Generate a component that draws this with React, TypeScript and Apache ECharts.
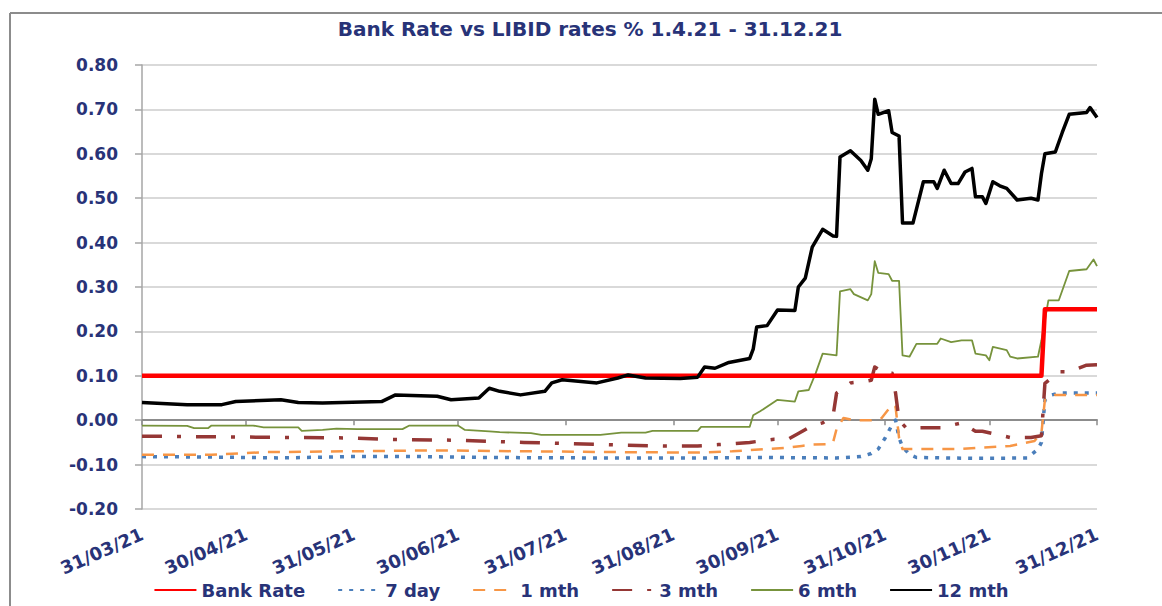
import React, { useEffect, useRef } from "react";
import * as echarts from "echarts";

const chartTitle = "Bank Rate vs LIBID rates % 1.4.21 - 31.12.21";
const seriesNames = ["Bank Rate", "7 day", "1 mth", "3 mth", "6 mth", "12 mth"];

const tickDates = ["2021-03-31", "2021-04-30", "2021-05-31", "2021-06-30", "2021-07-31", "2021-08-31", "2021-09-30", "2021-10-31", "2021-11-30", "2021-12-31"];
const tickLabels = ["31/03/21", "30/04/21", "31/05/21", "30/06/21", "31/07/21", "31/08/21", "30/09/21", "31/10/21", "30/11/21", "31/12/21"];

const bankDates = ["2021-03-31", "2021-12-15", "2021-12-16", "2021-12-31"];
const bankValues = [0.1, 0.1, 0.25, 0.25];

const day7Dates = ["2021-03-31", "2021-04-20", "2021-05-10", "2021-05-30", "2021-06-19", "2021-07-09", "2021-08-08", "2021-09-07", "2021-09-27", "2021-10-17", "2021-10-24", "2021-10-27", "2021-10-29", "2021-10-31", "2021-11-02", "2021-11-03", "2021-11-04", "2021-11-05", "2021-11-07", "2021-11-09", "2021-11-26", "2021-12-11", "2021-12-14", "2021-12-15", "2021-12-16", "2021-12-18", "2021-12-20", "2021-12-31"];
const day7Values = [-0.082, -0.083, -0.085, -0.082, -0.082, -0.084, -0.085, -0.085, -0.084, -0.085, -0.082, -0.075, -0.065, -0.04, -0.01, 0.0, -0.04, -0.06, -0.077, -0.084, -0.086, -0.085, -0.065, -0.05, 0.046, 0.057, 0.061, 0.061];

const mth1Dates = ["2021-03-31", "2021-04-20", "2021-05-05", "2021-05-30", "2021-06-24", "2021-07-19", "2021-08-18", "2021-09-07", "2021-09-17", "2021-10-03", "2021-10-07", "2021-10-10", "2021-10-14", "2021-10-16", "2021-10-17", "2021-10-19", "2021-10-22", "2021-10-27", "2021-10-30", "2021-11-02", "2021-11-03", "2021-11-04", "2021-11-05", "2021-11-21", "2021-12-06", "2021-12-13", "2021-12-15", "2021-12-16", "2021-12-19", "2021-12-31"];
const mth1Values = [-0.078, -0.078, -0.072, -0.07, -0.068, -0.07, -0.072, -0.073, -0.07, -0.062, -0.058, -0.055, -0.054, -0.05, -0.02, 0.005, 0.0, 0.0, 0.005, 0.035, 0.03, -0.04, -0.065, -0.065, -0.058, -0.047, -0.028, 0.046, 0.057, 0.057];

const mth3Dates = ["2021-03-31", "2021-04-30", "2021-05-30", "2021-06-09", "2021-06-29", "2021-07-19", "2021-08-16", "2021-08-28", "2021-09-07", "2021-09-13", "2021-09-22", "2021-09-29", "2021-10-03", "2021-10-06", "2021-10-10", "2021-10-13", "2021-10-16", "2021-10-17", "2021-10-21", "2021-10-25", "2021-10-27", "2021-10-28", "2021-10-31", "2021-11-02", "2021-11-03", "2021-11-04", "2021-11-06", "2021-11-16", "2021-11-22", "2021-11-26", "2021-11-28", "2021-12-02", "2021-12-06", "2021-12-12", "2021-12-15", "2021-12-16", "2021-12-20", "2021-12-23", "2021-12-28", "2021-12-31"];
const mth3Values = [-0.036, -0.038, -0.04, -0.043, -0.045, -0.05, -0.056, -0.058, -0.058, -0.055, -0.05, -0.043, -0.043, -0.03, -0.012, -0.006, 0.01, 0.061, 0.084, 0.087, 0.09, 0.12, 0.106, 0.106, 0.061, 0.0, -0.017, -0.017, -0.006, -0.025, -0.025, -0.032, -0.039, -0.039, -0.035, 0.083, 0.109, 0.109, 0.124, 0.125];

const mth6Dates = ["2021-03-31", "2021-04-13", "2021-04-15", "2021-04-19", "2021-04-20", "2021-05-02", "2021-05-05", "2021-05-15", "2021-05-16", "2021-05-22", "2021-05-26", "2021-06-01", "2021-06-14", "2021-06-16", "2021-06-30", "2021-07-02", "2021-07-09", "2021-07-12", "2021-07-21", "2021-07-24", "2021-08-10", "2021-08-16", "2021-08-23", "2021-08-25", "2021-09-07", "2021-09-08", "2021-09-22", "2021-09-23", "2021-09-25", "2021-09-30", "2021-10-05", "2021-10-06", "2021-10-09", "2021-10-11", "2021-10-13", "2021-10-17", "2021-10-18", "2021-10-21", "2021-10-22", "2021-10-26", "2021-10-27", "2021-10-28", "2021-10-29", "2021-11-01", "2021-11-02", "2021-11-04", "2021-11-05", "2021-11-07", "2021-11-09", "2021-11-15", "2021-11-16", "2021-11-19", "2021-11-22", "2021-11-25", "2021-11-26", "2021-11-29", "2021-11-30", "2021-12-01", "2021-12-05", "2021-12-06", "2021-12-08", "2021-12-14", "2021-12-15", "2021-12-17", "2021-12-20", "2021-12-23", "2021-12-28", "2021-12-30", "2021-12-31"];
const mth6Values = [-0.012, -0.013, -0.018, -0.018, -0.012, -0.012, -0.016, -0.016, -0.024, -0.022, -0.019, -0.02, -0.02, -0.012, -0.012, -0.022, -0.025, -0.027, -0.029, -0.033, -0.033, -0.028, -0.028, -0.024, -0.024, -0.015, -0.015, 0.011, 0.02, 0.046, 0.042, 0.065, 0.068, 0.106, 0.15, 0.146, 0.29, 0.295, 0.284, 0.27, 0.284, 0.358, 0.332, 0.329, 0.314, 0.314, 0.146, 0.143, 0.172, 0.172, 0.184, 0.176, 0.18, 0.18, 0.15, 0.146, 0.135, 0.165, 0.158, 0.143, 0.139, 0.143, 0.18, 0.27, 0.27, 0.336, 0.34, 0.362, 0.347];

const mth12Dates = ["2021-03-31", "2021-04-13", "2021-04-23", "2021-04-27", "2021-05-10", "2021-05-15", "2021-05-22", "2021-06-08", "2021-06-12", "2021-06-24", "2021-06-28", "2021-07-06", "2021-07-09", "2021-07-12", "2021-07-18", "2021-07-25", "2021-07-27", "2021-07-30", "2021-08-09", "2021-08-15", "2021-08-18", "2021-08-23", "2021-09-02", "2021-09-07", "2021-09-09", "2021-09-12", "2021-09-16", "2021-09-22", "2021-09-23", "2021-09-24", "2021-09-27", "2021-09-30", "2021-10-05", "2021-10-06", "2021-10-08", "2021-10-10", "2021-10-13", "2021-10-16", "2021-10-17", "2021-10-18", "2021-10-21", "2021-10-24", "2021-10-26", "2021-10-27", "2021-10-28", "2021-10-29", "2021-11-01", "2021-11-02", "2021-11-04", "2021-11-05", "2021-11-08", "2021-11-11", "2021-11-14", "2021-11-15", "2021-11-17", "2021-11-19", "2021-11-21", "2021-11-23", "2021-11-25", "2021-11-26", "2021-11-28", "2021-11-29", "2021-12-01", "2021-12-03", "2021-12-05", "2021-12-08", "2021-12-12", "2021-12-14", "2021-12-15", "2021-12-16", "2021-12-19", "2021-12-21", "2021-12-23", "2021-12-28", "2021-12-29", "2021-12-31"];
const mth12Values = [0.04, 0.035, 0.035, 0.042, 0.046, 0.04, 0.039, 0.042, 0.057, 0.054, 0.046, 0.05, 0.072, 0.065, 0.057, 0.065, 0.084, 0.091, 0.084, 0.095, 0.102, 0.095, 0.094, 0.097, 0.12, 0.117, 0.13, 0.139, 0.16, 0.21, 0.213, 0.248, 0.247, 0.3, 0.32, 0.39, 0.43, 0.415, 0.414, 0.593, 0.607, 0.585, 0.563, 0.589, 0.723, 0.689, 0.697, 0.648, 0.64, 0.444, 0.444, 0.537, 0.537, 0.522, 0.563, 0.533, 0.533, 0.559, 0.567, 0.503, 0.503, 0.488, 0.537, 0.528, 0.522, 0.496, 0.5, 0.496, 0.555, 0.6, 0.604, 0.648, 0.689, 0.693, 0.704, 0.682];

const NAVY = "#283378";
const FONT = "'DejaVu Sans', sans-serif";

function toTime(s: string): number {
  const [y, m, d] = s.split("-").map(Number);
  return Date.UTC(y, m - 1, d);
}

function pairs(dates: string[], values: number[]) {
  return dates.map((d, i) => [toTime(d), values[i]]);
}

const tickTimes = tickDates.map(toTime);

function labelFor(v: number): string {
  for (let i = 0; i < tickTimes.length; i++) {
    if (Math.abs(tickTimes[i] - v) < 43200000) return tickLabels[i];
  }
  return "";
}

export default function App() {
  const ref = useRef<HTMLDivElement>(null);

  useEffect(() => {
    if (!ref.current) return;
    const chart = echarts.init(ref.current, null, { renderer: "svg" });
    const xMin = tickTimes[0];
    const xMax = tickTimes[tickTimes.length - 1];

    const lineSeries = (name: string, data: any[], color: string, width: number, type: any, z: number) => ({
      name,
      type: "line",
      data,
      showSymbol: false,
      symbol: "none",
      z,
      xAxisIndex: 0,
      yAxisIndex: 0,
      lineStyle: { color, width, type, cap: "butt", join: "round" },
      itemStyle: { color },
      emphasis: { disabled: true },
    });

    chart.setOption({
      animation: false,
      backgroundColor: "#ffffff",
      grid: { left: 142, right: 65, top: 65, bottom: 97, outerBoundsMode: "none" },
      graphic: [
        { type: "line", shape: { x1: 10, y1: 13, x2: 1162, y2: 13 }, style: { stroke: "#8c8c8c", lineWidth: 2 } },
        { type: "line", shape: { x1: 10, y1: 13, x2: 10, y2: 606 }, style: { stroke: "#8c8c8c", lineWidth: 2 } },
        {
          type: "text",
          x: 590,
          y: 29,
          style: {
            text: chartTitle,
            fill: NAVY,
            fontSize: 20,
            fontWeight: "bold",
            fontFamily: FONT,
            align: "center",
            verticalAlign: "middle",
          },
        },
      ],
      legend: {
        data: seriesNames,
        top: 576,
        left: "center",
        itemWidth: 42,
        itemHeight: 12,
        itemGap: 32,
        selectedMode: false,
        itemStyle: { opacity: 0 },
        textStyle: { color: NAVY, fontSize: 18, fontWeight: "bold", fontFamily: FONT },
      },
      xAxis: [
        {
          type: "value",
          min: xMin,
          max: xMax,
          position: "bottom",
          axisLine: { show: false, onZero: false },
          axisTick: { show: false },
          splitLine: { show: false },
          axisLabel: {
            customValues: tickTimes,
            formatter: (v: number) => labelFor(v),
            rotate: 24,
            margin: 24,
            color: NAVY,
            fontSize: 18,
            fontWeight: "bold",
            fontFamily: FONT,
            hideOverlap: false,
          },
        },
        {
          type: "value",
          min: xMin,
          max: xMax,
          position: "bottom",
          axisLine: { show: true, onZero: true, onZeroAxisIndex: 0, lineStyle: { color: "#8c8c8c", width: 2 } },
          axisTick: { show: true, customValues: tickTimes, length: 5, lineStyle: { color: "#8c8c8c", width: 1.5 } },
          axisLabel: { show: false },
          splitLine: { show: false },
        },
      ],
      yAxis: {
        type: "value",
        min: -0.2,
        max: 0.8,
        interval: 0.1,
        axisLine: { show: true, onZero: false, lineStyle: { color: "#a6a6a6", width: 1.5 } },
        axisTick: { show: true, length: 7, lineStyle: { color: "#a6a6a6", width: 1.5 } },
        axisLabel: {
          formatter: (v: number) => (Math.abs(v) < 1e-9 ? 0 : v).toFixed(2),
          margin: 24,
          color: NAVY,
          fontSize: 17,
          fontWeight: "bold",
          fontFamily: FONT,
        },
        splitLine: { lineStyle: { color: "#cccccc", width: 1.5 } },
      },
      series: [
        lineSeries("Bank Rate", pairs(bankDates, bankValues), "#ff0000", 4.5, "solid", 5),
        lineSeries("7 day", pairs(day7Dates, day7Values), "#4a7ebb", 3.5, [4, 7], 2),
        lineSeries("1 mth", pairs(mth1Dates, mth1Values), "#f79646", 2.5, [12, 9], 2),
        lineSeries("3 mth", pairs(mth3Dates, mth3Values), "#953735", 3.5, [20, 15, 4, 15], 2),
        lineSeries("6 mth", pairs(mth6Dates, mth6Values), "#77933c", 1.8, "solid", 3),
        lineSeries("12 mth", pairs(mth12Dates, mth12Values), "#000000", 3.5, "solid", 6),
      ],
    });

    return () => chart.dispose();
  }, []);

  return (
    <div
      ref={ref}
      style={{ position: "fixed", left: 0, top: 0, width: 1162, height: 606, background: "#fff" }}
    />
  );
}
